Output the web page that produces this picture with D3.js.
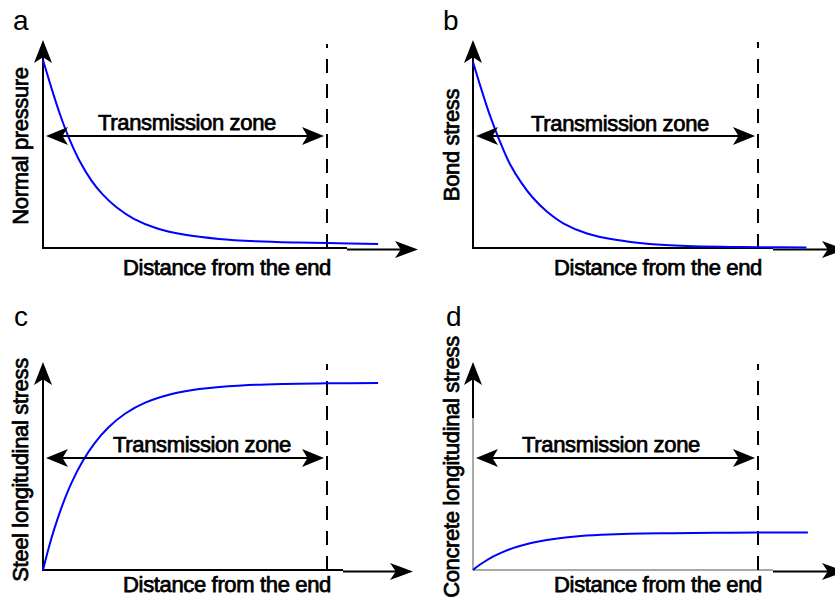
<!DOCTYPE html>
<html>
<head>
<meta charset="utf-8">
<script src="https://cdn.jsdelivr.net/npm/d3@7/dist/d3.min.js"></script>
<style>
  html, body { margin: 0; padding: 0; background: #fff; }
  svg { display: block; }
  text { font-family: "Liberation Sans", Arial, Helvetica, sans-serif; fill: #000; }
</style>
</head>
<body>
<svg id="chart" width="835" height="597"></svg>
<script>
// ---------- data (distance normalised to transmission length = 1) ----------
const panelLetters = ["a", "b", "c", "d"];
const yLabels = ["Normal pressure", "Bond stress", "Steel longitudinal stress", "Concrete longitudinal stress"];
const xLabel = "Distance from the end";
const zoneLabel = "Transmission zone";
const transmissionLength = 1.0;

const distDecay = [0, 0.03, 0.06, 0.09, 0.13, 0.17, 0.21, 0.26, 0.32, 0.4, 0.5, 0.62, 0.75, 0.9, 1.0, 1.18];
const normalPressure = [1.0, 0.85, 0.71, 0.59, 0.46, 0.36, 0.285, 0.215, 0.155, 0.105, 0.07, 0.048, 0.036, 0.029, 0.026, 0.021];
const distBond = [0, 0.03, 0.06, 0.09, 0.13, 0.17, 0.21, 0.26, 0.32, 0.4, 0.5, 0.62, 0.75, 0.9, 1.0, 1.17];
const bondStress = [1.0, 0.85, 0.71, 0.59, 0.45, 0.35, 0.27, 0.195, 0.13, 0.078, 0.044, 0.022, 0.011, 0.006, 0.004, 0.003];
const distRise = [0, 0.02, 0.04, 0.07, 0.1, 0.14, 0.18, 0.23, 0.29, 0.36, 0.45, 0.55, 0.7, 0.85, 1.0, 1.18];
const steelStress = [0, 0.118, 0.221, 0.354, 0.465, 0.583, 0.675, 0.762, 0.837, 0.895, 0.94, 0.968, 0.987, 0.995, 0.998, 1.0];
const distConcrete = [0, 0.02, 0.04, 0.07, 0.1, 0.14, 0.18, 0.23, 0.29, 0.36, 0.45, 0.55, 0.7, 0.85, 1.0, 1.175];
const concreteStress = [0, 0.024, 0.044, 0.071, 0.093, 0.117, 0.135, 0.152, 0.167, 0.179, 0.188, 0.194, 0.197, 0.199, 0.2, 0.2];

const seriesX = [distDecay, distBond, distRise, distConcrete];
const seriesY = [normalPressure, bondStress, steelStress, concreteStress];

// ---------- layout (pixels) ----------
const layout = [
  {ox: 43,  oy: 248, xEnd: 327, yTop1: 60,  yTip: 40,  xTip: 418, xSplit: 347, dashTop: 44,  transY: 136, tx: 187, ty: 130, lx: 227, ly: 275, yx: 28,  yy: 146, px: 13,  py: 30,  thin: false},
  {ox: 473, oy: 248, xEnd: 758, yTop1: 62,  yTip: 40,  xTip: 845, xSplit: 773, dashTop: 42,  transY: 136, tx: 620, ty: 131, lx: 658, ly: 275, yx: 459, yy: 145, px: 443, py: 30,  thin: false},
  {ox: 43,  oy: 570, xEnd: 327, yTop1: 383, yTip: 362, xTip: 413, xSplit: 343, dashTop: 364, transY: 458, tx: 202, ty: 452, lx: 227, ly: 592, yx: 28,  yy: 470, px: 14,  py: 326, thin: false},
  {ox: 473, oy: 570, xEnd: 758, yTop1: 383, yTip: 362, xTip: 845, xSplit: 773, dashTop: 364, transY: 458, tx: 611, ty: 452, lx: 658, ly: 592, yx: 459, yy: 467, px: 446, py: 326, thin: true, yThickEnd: 418}
];

const FS = 22, LS = -0.35, SW = 0.75;
const svg = d3.select("#chart");

function arrowHead(g, x, y, angleDeg, len, half) {
  const notch = len * 0.75;
  g.append("path")
    .attr("d", `M0,0 L${-len},${-half} L${-notch},0 L${-len},${half} Z`)
    .attr("transform", `translate(${x},${y}) rotate(${angleDeg})`)
    .attr("fill", "#000");
}

function label(g, t) {
  return g.append("text")
    .attr("font-size", FS).attr("letter-spacing", LS)
    .attr("stroke", "#000").attr("stroke-width", SW)
    .attr("text-anchor", "middle")
    .text(t);
}

layout.forEach((L, i) => {
  const g = svg.append("g");
  const x = d3.scaleLinear().domain([0, transmissionLength]).range([L.ox, L.xEnd]);
  const y = d3.scaleLinear().domain([0, 1]).range([L.oy, L.yTop1]);

  // y axis
  if (L.thin) {
    g.append("line").attr("x1", L.ox).attr("x2", L.ox).attr("y1", L.oy).attr("y2", L.yThickEnd)
      .attr("stroke", "#555").attr("stroke-width", 1);
    g.append("line").attr("x1", L.ox).attr("x2", L.ox).attr("y1", L.yThickEnd).attr("y2", L.yTip + 10)
      .attr("stroke", "#000").attr("stroke-width", 2);
  } else {
    g.append("line").attr("x1", L.ox).attr("x2", L.ox).attr("y1", L.oy + 1).attr("y2", L.yTip + 10)
      .attr("stroke", "#000").attr("stroke-width", 2);
  }
  arrowHead(g, L.ox, L.yTip, -90, 23, 9);

  // x axis
  g.append("line").attr("x1", L.ox).attr("x2", L.xSplit).attr("y1", L.oy).attr("y2", L.oy)
    .attr("stroke", L.thin ? "#555" : "#000").attr("stroke-width", L.thin ? 1 : 2);
  g.append("line").attr("x1", L.xSplit).attr("x2", L.xTip - 10).attr("y1", L.oy + 1.5).attr("y2", L.oy + 1.5)
    .attr("stroke", "#000").attr("stroke-width", 2.2);
  arrowHead(g, L.xTip, L.oy + 1.5, 0, 23, 8.5);

  // dashed end of transmission zone
  const xd = x(transmissionLength);
  g.append("line").attr("x1", xd).attr("x2", xd).attr("y1", L.oy).attr("y2", L.dashTop)
    .attr("stroke", "#000").attr("stroke-width", 2).attr("stroke-dasharray", "14,11");

  // curve
  const pts = seriesX[i].map((d, k) => [d, seriesY[i][k]]);
  g.append("path")
    .datum(pts)
    .attr("d", d3.line().x(d => x(d[0])).y(d => y(d[1])).curve(d3.curveCatmullRom.alpha(0.5)))
    .attr("fill", "none").attr("stroke", "#0000ff").attr("stroke-width", 2);

  // transmission zone arrow
  const xl = x(0) + 3, xr = xd - 3;
  g.append("line").attr("x1", xl + 10).attr("x2", xr - 10).attr("y1", L.transY).attr("y2", L.transY)
    .attr("stroke", "#000").attr("stroke-width", 2.2);
  arrowHead(g, xl, L.transY, 180, 22, 9);
  arrowHead(g, xr, L.transY, 0, 22, 9);
  label(g, zoneLabel).attr("x", L.tx).attr("y", L.ty);

  // axis labels
  label(g, xLabel).attr("x", L.lx).attr("y", L.ly);
  label(g, yLabels[i]).attr("transform", `translate(${L.yx},${L.yy}) rotate(-90)`);

  // panel letter
  g.append("text").attr("x", L.px).attr("y", L.py).attr("font-size", 28)
    .text(panelLetters[i]);
});
</script>
</body>
</html>
